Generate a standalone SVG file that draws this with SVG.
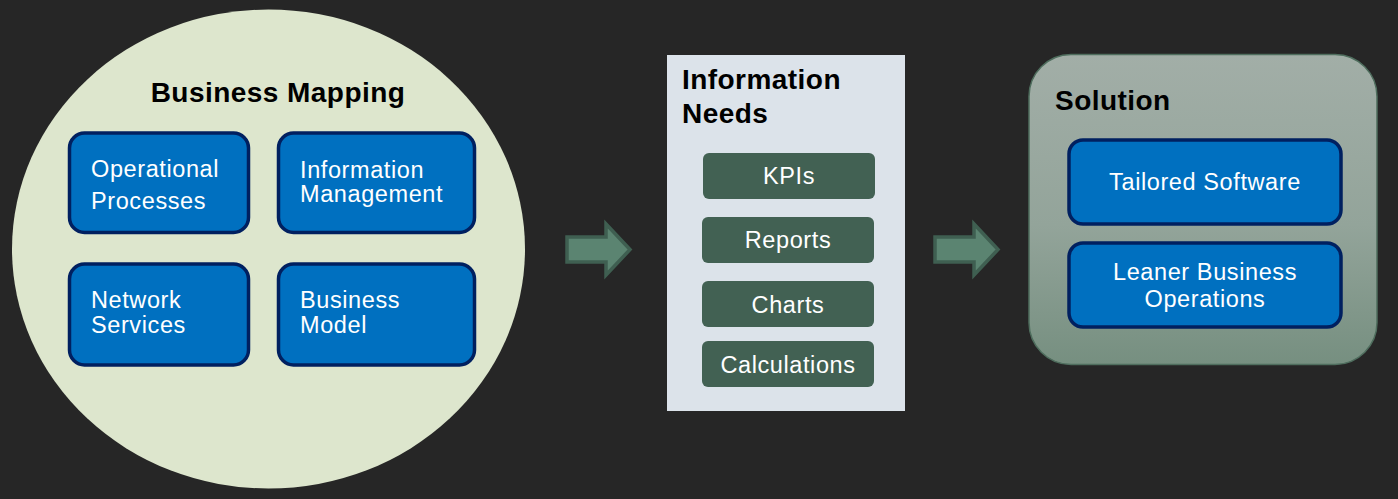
<svg xmlns="http://www.w3.org/2000/svg" width="1398" height="499" viewBox="0 0 1398 499">
<defs>
<linearGradient id="solGrad" x1="0" y1="0" x2="0" y2="1">
<stop offset="0" stop-color="#A2AEA7"/>
<stop offset="0.55" stop-color="#93A49A"/>
<stop offset="1" stop-color="#768F80"/>
</linearGradient>
<style>
.blue{fill:#0070C0;stroke:#002060;stroke-width:3.5}
.green{fill:#426153}
.wt{fill:#FFFFFF;font-family:"Liberation Sans",Arial,sans-serif;font-size:23.5px;letter-spacing:0.6px}
.wc{fill:#FFFFFF;font-family:"Liberation Sans",Arial,sans-serif;font-size:23.5px;letter-spacing:0.6px;text-anchor:middle}
.title{fill:#000000;font-family:"Liberation Sans",Arial,sans-serif;font-size:28px;font-weight:bold;letter-spacing:0.45px}
.arrow{fill:#5B8471;stroke:#3F5F51;stroke-width:3.5;stroke-linejoin:miter}
</style>
</defs>
<rect x="0" y="0" width="1398" height="499" fill="#262626"/>
<g id="business-mapping">
<ellipse cx="268.5" cy="249" rx="256.5" ry="239.5" fill="#DDE6CD"/>
<text class="title" x="278" y="102" text-anchor="middle">Business Mapping</text>
<g id="operational-processes">
<rect class="blue" x="69.5" y="133" width="179" height="99.5" rx="15"/>
<text class="wt" x="91" y="177">Operational</text>
<text class="wt" x="91" y="209">Processes</text>
</g>
<g id="information-management">
<rect class="blue" x="278.5" y="133" width="196" height="99.5" rx="15"/>
<text class="wt" x="300" y="178">Information</text>
<text class="wt" x="300" y="202">Management</text>
</g>
<g id="network-services">
<rect class="blue" x="69.5" y="264" width="179" height="101" rx="15"/>
<text class="wt" x="91" y="308">Network</text>
<text class="wt" x="91" y="333">Services</text>
</g>
<g id="business-model">
<rect class="blue" x="278.5" y="264" width="196" height="101" rx="15"/>
<text class="wt" x="300" y="308">Business</text>
<text class="wt" x="300" y="333">Model</text>
</g>
</g>
<g id="information-needs">
<rect x="667" y="55" width="238" height="356" fill="#DCE3EA"/>
<text class="title" x="682" y="89">Information</text>
<text class="title" x="682" y="123">Needs</text>
<g id="kpis">
<rect class="green" x="703" y="153" width="172" height="46" rx="6"/>
<text class="wc" x="789" y="184">KPIs</text>
</g>
<g id="reports">
<rect class="green" x="702" y="217" width="172" height="46" rx="6"/>
<text class="wc" x="788" y="248">Reports</text>
</g>
<g id="charts">
<rect class="green" x="702" y="281" width="172" height="46" rx="6"/>
<text class="wc" x="788" y="313">Charts</text>
</g>
<g id="calculations">
<rect class="green" x="702" y="341" width="172" height="46" rx="6"/>
<text class="wc" x="788" y="373">Calculations</text>
</g>
</g>
<g id="solution">
<rect x="1029" y="54.5" width="348" height="310" rx="42" fill="url(#solGrad)" stroke="#4F6E5E" stroke-width="1.5"/>
<text class="title" x="1055" y="110">Solution</text>
<g id="tailored-software">
<rect class="blue" x="1069" y="140" width="272" height="84" rx="14"/>
<text class="wc" x="1205" y="190">Tailored Software</text>
</g>
<g id="leaner-business-operations">
<rect class="blue" x="1069" y="243" width="272" height="84" rx="14"/>
<text class="wc" x="1205" y="280">Leaner Business</text>
<text class="wc" x="1205" y="307">Operations</text>
</g>
</g>
<g id="connectors">
<path class="arrow" d="M567,237 L606,237 L606,224 L630,249.5 L606,275 L606,262 L567,262 Z"/>
<path class="arrow" d="M935,237 L974,237 L974,224 L998,249.5 L974,275 L974,262 L935,262 Z"/>
</g>
</svg>
